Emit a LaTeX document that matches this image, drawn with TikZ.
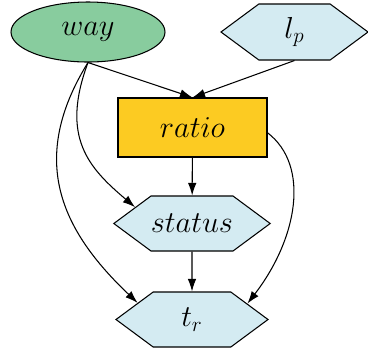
\documentclass[tikz,border=0pt]{standalone}
\usetikzlibrary{shapes.geometric,shapes.symbols,arrows.meta}
\definecolor{waygreen}{RGB}{136,204,158}
\definecolor{hexblue}{RGB}{212,235,242}
\definecolor{ratioyellow}{RGB}{252,203,34}
\tikzset{
	hexnode/.style={shape=signal, signal to=east and west, signal pointer angle=73, draw, line width=0.6pt, fill=hexblue, inner sep=0pt},
	edge/.style={line width=0.6pt, -{Latex[length=0.25cm, width=0.17cm]}}
}
\begin{document}
\begin{tikzpicture}[font=\fontsize{18}{22}\selectfont]
	\useasboundingbox (0,0) rectangle (7.36,-7.06);
	% Nodes:
	\node[shape=ellipse, draw, line width=0.6pt, fill=waygreen, minimum width=3.08cm, minimum height=1.2cm, inner sep=0pt] (way) at (1.76,-0.64){$way$};
	\node[hexnode, minimum width=2.94cm, minimum height=1.12cm] (lp) at (5.89,-0.64){$l_p$};
	\node[shape=rectangle, draw, line width=0.6pt, fill=ratioyellow, minimum width=2.98cm, minimum height=1.18cm] (ratio) at (3.85,-2.55){$ratio$};
	\node[hexnode, minimum width=3.04cm, minimum height=1.1cm] (status) at (3.84,-4.47){$status$};
	\node[hexnode, minimum width=3.04cm, minimum height=1.1cm] (tr) at (3.84,-6.39){$t_r$};
	% Edges:
	\draw[edge] (way.south) -- (ratio.north);
	\draw[edge] (lp.south) -- (ratio.north);
	\draw[edge] (ratio) -- (status);
	\draw[edge] (status) -- (tr);
	\draw[edge] (way.south) .. controls +(-0.56,-1.5) and +(-0.92,0.78) .. (status.164);
	\draw[edge] (way.south) .. controls +(-1.2,-1.94) and +(-1.54,1.46) .. (tr.163);
	\draw[edge] (ratio.-4) .. controls +(0.86,-0.66) and +(1.0,1.3) .. (tr.16);
\end{tikzpicture}
\end{document}
